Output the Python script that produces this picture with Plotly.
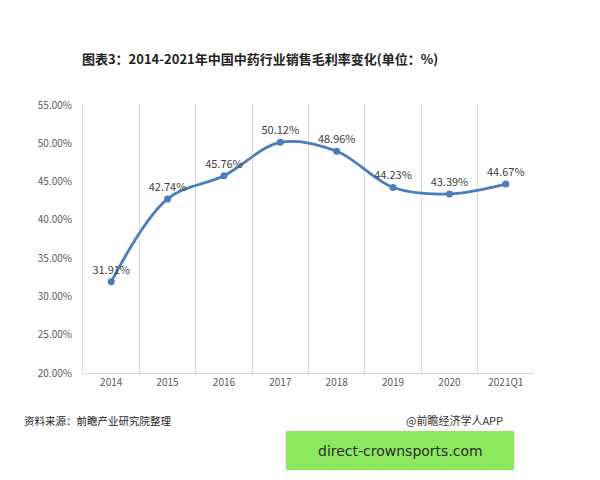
import plotly.graph_objects as go

categories = ["2014", "2015", "2016", "2017", "2018", "2019", "2020", "2021Q1"]
margin_values = [31.91, 42.74, 45.76, 50.12, 48.96, 44.23, 43.39, 44.67]
y_ticks = [20, 25, 30, 35, 40, 45, 50, 55]
y_tick_labels = [f"{v:.2f}%" for v in y_ticks]
point_labels = [f"{v:.2f}%" for v in margin_values]

title_text = "图表3：2014-2021年中国中药行业销售毛利率变化(单位：%)"
source_text = "资料来源：前瞻产业研究院整理"
credit_text = "@前瞻经济学人APP"
stamp_text = "direct-crownsports.com"

font_family = "Microsoft YaHei, Noto Sans CJK SC, sans-serif"

fig = go.Figure()
fig.add_trace(go.Scatter(
    x=categories, y=margin_values,
    mode="lines+markers+text",
    line=dict(color="#4a7ebb", width=2.8, shape="spline", smoothing=1.0),
    marker=dict(color="#4a7ebb", size=7),
    text=point_labels, textposition="top center",
    textfont=dict(family=font_family, size=11, color="#404040"),
    cliponaxis=False, showlegend=False,
))

fig.update_layout(
    width=600, height=480,
    margin=dict(l=83, r=66, t=105, b=107),
    paper_bgcolor="white", plot_bgcolor="white",
    font=dict(family=font_family, color="#595959"),
    title=dict(text="<b>" + title_text + "</b>", x=260 / 600, xanchor="center",
               y=1 - 59 / 480, yanchor="middle",
               font=dict(family=font_family, size=13, color="#222222")),
)
fig.update_xaxes(
    type="category", range=[-0.5, 7.5], tickson="boundaries",
    showgrid=True, gridcolor="#d9d9d9", gridwidth=1,
    showline=True, linecolor="#d9d9d9", ticks="",
    tickfont=dict(family=font_family, size=10, color="#595959"),
    fixedrange=True,
)
fig.update_yaxes(
    range=[20, 55], tickvals=y_ticks, ticktext=y_tick_labels,
    showgrid=False, zeroline=False, showline=True, linecolor="#d9d9d9",
    ticks="", ticklabelstandoff=8,
    tickfont=dict(family=font_family, size=10, color="#595959"),
    fixedrange=True,
)

fig.add_annotation(text=source_text, xref="paper", yref="paper",
                   x=-61 / 451, y=-(420 - 373) / 268, xanchor="left", yanchor="middle",
                   showarrow=False, font=dict(family=font_family, size=10.5, color="#222222"))
fig.add_annotation(text=credit_text, xref="paper", yref="paper",
                   x=(505 - 83) / 451, y=-(420 - 373) / 268, xanchor="right", yanchor="middle",
                   showarrow=False, font=dict(family=font_family, size=11, color="#333333"))
fig.add_shape(type="rect", xref="paper", yref="paper",
              x0=(286 - 83) / 451, x1=(514 - 83) / 451,
              y0=-(470 - 373) / 268, y1=-(431 - 373) / 268,
              fillcolor="#8ee85f", line=dict(width=0), layer="above")
fig.add_annotation(text=stamp_text, xref="paper", yref="paper",
                   x=(400 - 83) / 451, y=-(451 - 373) / 268, xanchor="center", yanchor="middle",
                   showarrow=False, font=dict(family="DejaVu Sans, sans-serif", size=14, color="#2a2a2a"))

fig.write_html("out.html")
